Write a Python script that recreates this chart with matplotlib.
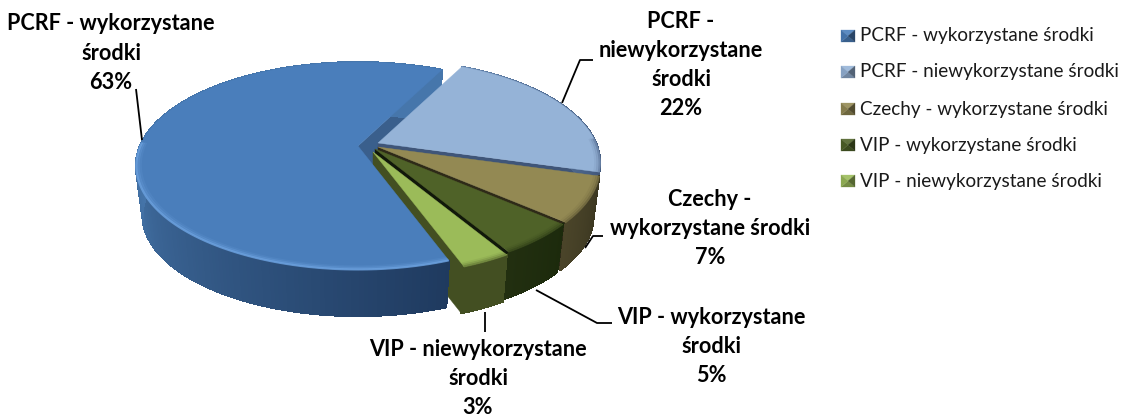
#!/usr/bin/env python3
import numpy as np
import matplotlib
matplotlib.use("Agg")
import matplotlib.pyplot as plt
from matplotlib.colors import to_rgb
from matplotlib.collections import PolyCollection
from matplotlib.patches import Polygon

names = [
    "PCRF - wykorzystane środki",
    "PCRF - niewykorzystane środki",
    "Czechy - wykorzystane środki",
    "VIP - wykorzystane środki",
    "VIP - niewykorzystane środki",
]
values = [63, 22, 7, 5, 3]
label_lines = [
    ["PCRF - wykorzystane", "środki"],
    ["PCRF -", "niewykorzystane", "środki"],
    ["Czechy -", "wykorzystane środki"],
    ["VIP - wykorzystane", "środki"],
    ["VIP - niewykorzystane", "środki"],
]

# look of the slices
top_cols = ["#4a7ebb", "#95b3d7", "#938953", "#4f6228", "#9bbb59"]
wall_cols = [("#1f3a5f", "#4676ab"), ("#5f7fa8", "#3f5578"), ("#3a3620", "#4a4429"),
             ("#1c2a0c", "#222f10"), ("#434f22", "#434f22")]
face_cols = ["#3a5f8c", "#3f5578", "#2e2a18", "#11180a", "#434f22"]
apex = [(358, 146), (378, 143), (378, 147), (375, 149), (373, 152)]
label_pos = [(111, 24), (681, 21), (710, 199), (711, 317), (478, 349)]
leaders = [
    [(136, 89), (142, 140)],
    [(593, 60), (580, 60), (562, 103)],
    [(603, 236), (593, 236), (585, 248)],
    [(612, 323), (597, 323), (536, 290)],
    [(485, 312), (485, 332)],
]
legend_y = [36, 72, 109, 145, 181]

START = 160.0
RX, RY, K = 218.0, 100.0, 0.192
DEPTH, SHRINK = 50.0, 0.97


def proj(theta, r=1.0):
    t = np.radians(theta)
    u, v = r * np.sin(t), r * np.cos(t)
    d = 1 + K * v
    return RX * u / d, -RY * v / d


def top_xy(c, theta, r=1.0):
    x, y = proj(theta, r)
    return np.column_stack([c[0] + x, c[1] + y])


def low_xy(c, theta):
    x, y = proj(theta)
    return np.column_stack([c[0] + SHRINK * x, c[1] + SHRINK * y + DEPTH])


def mix(a, b, t):
    a, b = np.array(to_rgb(a)), np.array(to_rgb(b))
    return tuple(a + (b - a) * t)


fig = plt.figure(figsize=(11.26, 4.16), dpi=100)
ax = fig.add_axes([0, 0, 1, 1])
ax.set_xlim(0, 1126)
ax.set_ylim(416, 0)
ax.axis("off")

angles = START + np.cumsum([0] + values) * 3.6

for i, val in enumerate(values):
    c = apex[i]
    a0, a1 = angles[i], angles[i + 1]
    th = np.linspace(a0, a1, 240)
    outer = top_xy(c, th)
    lower = low_xy(c, th)
    corner = np.array([c])
    corner_low = np.array([[c[0], c[1] + DEPTH]])

    # end cut faces: above blue's back face, under blue's wall and top
    z = 2 * i + 1
    ax.add_patch(Polygon(np.vstack([corner, outer[-1:], lower[-1:], corner_low]),
                         fc=face_cols[i], ec=face_cols[i], lw=0.3,
                         zorder=1 + 0.1 * i))

    # outer wall, shaded along the arc
    span = np.linspace(0, 1, len(th) - 1)
    if i == 0:
        span = np.clip((th[:-1] - a0) / 110.0, 0, 1)
    quads = [np.vstack([outer[j], outer[j + 1], lower[j + 1], lower[j]]) for j in range(len(th) - 1)]
    cols = [mix(wall_cols[i][0], wall_cols[i][1], s) for s in span]
    ax.add_collection(PolyCollection(quads, facecolors=cols, edgecolors=cols, linewidths=0.8,
                                     antialiased=False, zorder=z + 0.6))

    # top
    poly = np.vstack([corner, outer])
    ax.add_patch(Polygon(poly, fc=top_cols[i], ec=top_cols[i], lw=0.3, zorder=z + 0.8))

    # soft bevel along the front part of the rim
    rim = "#6ea3e0" if i == 0 else mix(top_cols[i], wall_cols[i][1], 0.55)
    front = th[np.cos(np.radians(th)) < 0.05]
    if len(front) > 1:
        for r, lw, al in [(0.998, 1.6, 0.75), (0.99, 2.0, 0.35), (0.98, 2.0, 0.15)]:
            pts = top_xy(c, front, r)
            ax.plot(pts[:, 0], pts[:, 1], color=rim, lw=lw, alpha=al, zorder=z + 0.9,
                    solid_capstyle="butt")

# data labels
for i, lines in enumerate(label_lines):
    x, y = label_pos[i]
    for j, s in enumerate(lines + [f"{values[i]}%"]):
        ax.text(x, y + j * 29.2, s, ha="center", va="center", fontsize=15.6,
                fontweight="bold", family="Lato", color="black", zorder=30)
    pts = np.array(leaders[i])
    ax.plot(pts[:, 0], pts[:, 1], color="black", lw=1.3, zorder=25, solid_capstyle="butt")

# legend
for i, name in enumerate(names):
    y = legend_y[i]
    x0, x1, y0, y1 = 841, 855, y - 6, y + 6
    mx, my = (x0 + x1) / 2, (y0 + y1) / 2
    base = top_cols[i]
    tris = [
        ([(x0, y0), (x1, y0), (mx, my)], mix(base, "white", 0.1)),
        ([(x0, y1), (x1, y1), (mx, my)], mix(base, "black", 0.25)),
        ([(x0, y0), (x0, y1), (mx, my)], mix(base, "black", 0.1)),
        ([(x1, y0), (x1, y1), (mx, my)], mix(base, "black", 0.45)),
    ]
    for pts, col in tris:
        ax.add_patch(Polygon(pts, fc=col, ec=col, lw=0.2, zorder=30))
    ax.text(860, y, name, ha="left", va="center", fontsize=13.6, family="Lato", color="#1a1a1a")

fig.savefig("out.png", dpi=100)
plt.close(fig)
